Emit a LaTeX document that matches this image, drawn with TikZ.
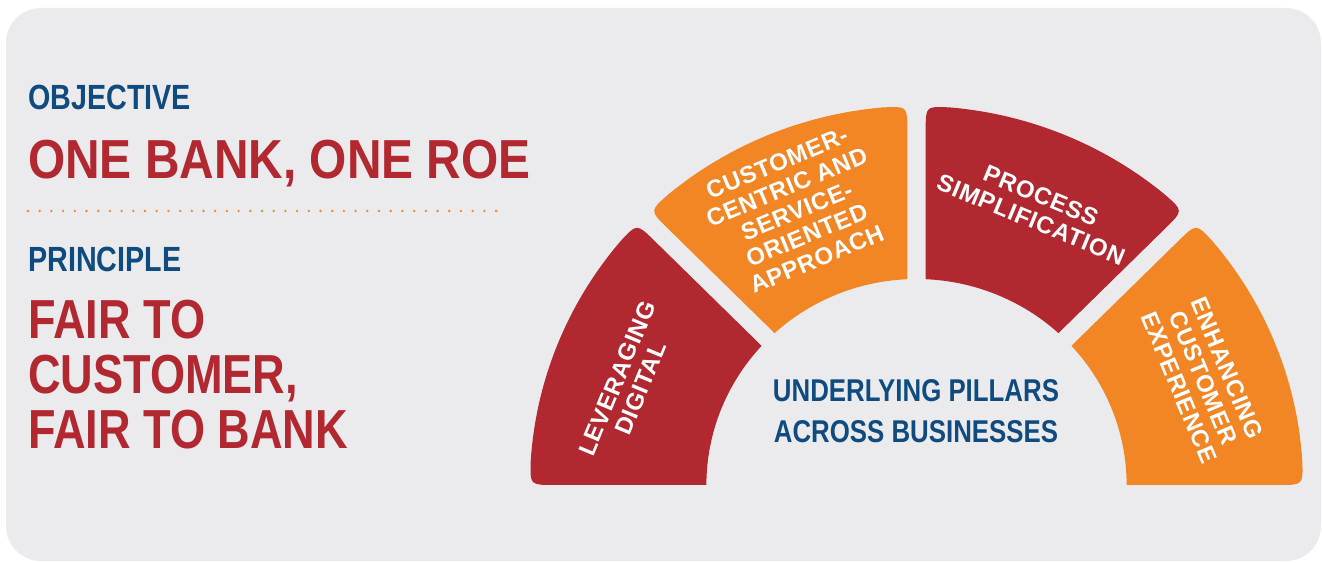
\documentclass[tikz,border=0pt]{standalone}
\usepackage{fontspec}
\setmainfont{Liberation Sans}
\newfontfamily\condfont[FakeStretch=0.82]{Liberation Sans}
\newfontfamily\pillarfont[LetterSpace=3]{Liberation Sans}
\usepackage{xcolor}
\usepackage{tikz}
\usetikzlibrary{calc}

\definecolor{bankred}{RGB}{178,40,48}
\definecolor{bankorange}{RGB}{242,133,36}
\definecolor{bankblue}{RGB}{16,75,128}
\definecolor{panelgray}{RGB}{235,235,237}

\begin{document}
\begin{tikzpicture}[x=1pt,y=1pt,
  heading/.style={anchor=base west,inner sep=0pt,text=bankblue,
    font=\condfont\bfseries\fontsize{35}{35}\selectfont},
  motto/.style={anchor=base west,inner sep=0pt,text=bankred,align=left,
    font=\condfont\bfseries\fontsize{55}{55}\selectfont},
  pillartext/.style={text=white,align=center,inner sep=0pt,
    font=\pillarfont\bfseries\fontsize{24}{26}\selectfont}]
  \useasboundingbox (0,0) rectangle (1322,562);
  \fill[white] (0,0) rectangle (1322,562);
  \fill[panelgray,rounded corners=35pt] (6,1) rectangle (1321,554);

  % left column
  \node[heading] (objective) at (28,452) {OBJECTIVE};
  \node[motto,font=\condfont\bfseries\fontsize{55}{55}\selectfont\addfontfeature{FakeStretch=0.87}]
    (roe) at (28,383) {ONE BANK, ONE ROE};
  \draw[bankorange,line width=2.6pt,line cap=round,dash pattern=on 0pt off 11.7pt]
    (28,351) -- (496,351);
  \node[heading] (principle) at (28,290) {PRINCIPLE};
  \node[motto,anchor=north west] (fair) at (28,262)
    {FAIR TO\\CUSTOMER,\\FAIR TO BANK};

  % the four pillars, outer corners rounded
  \coordinate (O) at (916.5,77);
  \def\Rin{206}\def\Rout{379}\def\rc{24}\def\gap{9}
  \begin{scope}[shift={(O)},xscale=1.02]
  \foreach \a/\b/\da/\db/\col in {135/180/\gap/0/bankred,90/135/\gap/\gap/bankorange,
                                 45/90/\gap/\gap/bankred,0/45/0/\gap/bankorange}{
    \pgfmathsetmacro\tAo{\a+asin(\da/\Rout)}
    \pgfmathsetmacro\tBo{\b-asin(\db/\Rout)}
    \pgfmathsetmacro\tAi{\a+asin(\da/\Rin)}
    \pgfmathsetmacro\tBi{\b-asin(\db/\Rin)}
    \pgfmathsetmacro\pA{\Rout*cos(asin(\da/\Rout))-\rc}
    \pgfmathsetmacro\pB{\Rout*cos(asin(\db/\Rout))-\rc}
    \pgfmathsetmacro\xA{\pA*cos(\a)-\da*sin(\a)}
    \pgfmathsetmacro\yA{\pA*sin(\a)+\da*cos(\a)}
    \pgfmathsetmacro\xB{\pB*cos(\b)+\db*sin(\b)}
    \pgfmathsetmacro\yB{\pB*sin(\b)-\db*cos(\b)}
    \pgfmathsetmacro\sA{\tAo+\rc/\Rout*180/pi}
    \pgfmathsetmacro\sB{\tBo-\rc/\Rout*180/pi}
    \fill[\col] (\tAi:\Rin) -- (\xA,\yA) .. controls (\tAo:\Rout) .. (\sA:\Rout)
      arc[start angle=\sA,end angle=\sB,radius=\Rout]
      .. controls (\tBo:\Rout) .. (\xB,\yB) -- (\tBi:\Rin)
      arc[start angle=\tBi,end angle=\tAi,radius=\Rin] -- cycle;
  }
  \end{scope}

  \node[pillartext,rotate=67.5] (digital) at ($(O)+(160.5:305)$) {LEVERAGING\\DIGITAL};
  \node[pillartext,rotate=22.5] (service) at ($(O)+(113.6:299)$)
    {CUSTOMER-\\CENTRIC AND\\SERVICE-\\ORIENTED\\APPROACH};
  \node[pillartext,rotate=-22.5] (process) at ($(O)+(66.7:302)$) {PROCESS\\SIMPLIFICATION};
  \node[pillartext,rotate=-67.5] (experience) at ($(O)+(20.5:306)$)
    {ENHANCING\\CUSTOMER\\EXPERIENCE};

  \node[text=bankblue,align=center,inner sep=0pt,
    font=\condfont\bfseries\fontsize{31.5}{41}\selectfont]
    (pillars) at (916,150.5) {UNDERLYING PILLARS\\ACROSS BUSINESSES};
\end{tikzpicture}
\end{document}
